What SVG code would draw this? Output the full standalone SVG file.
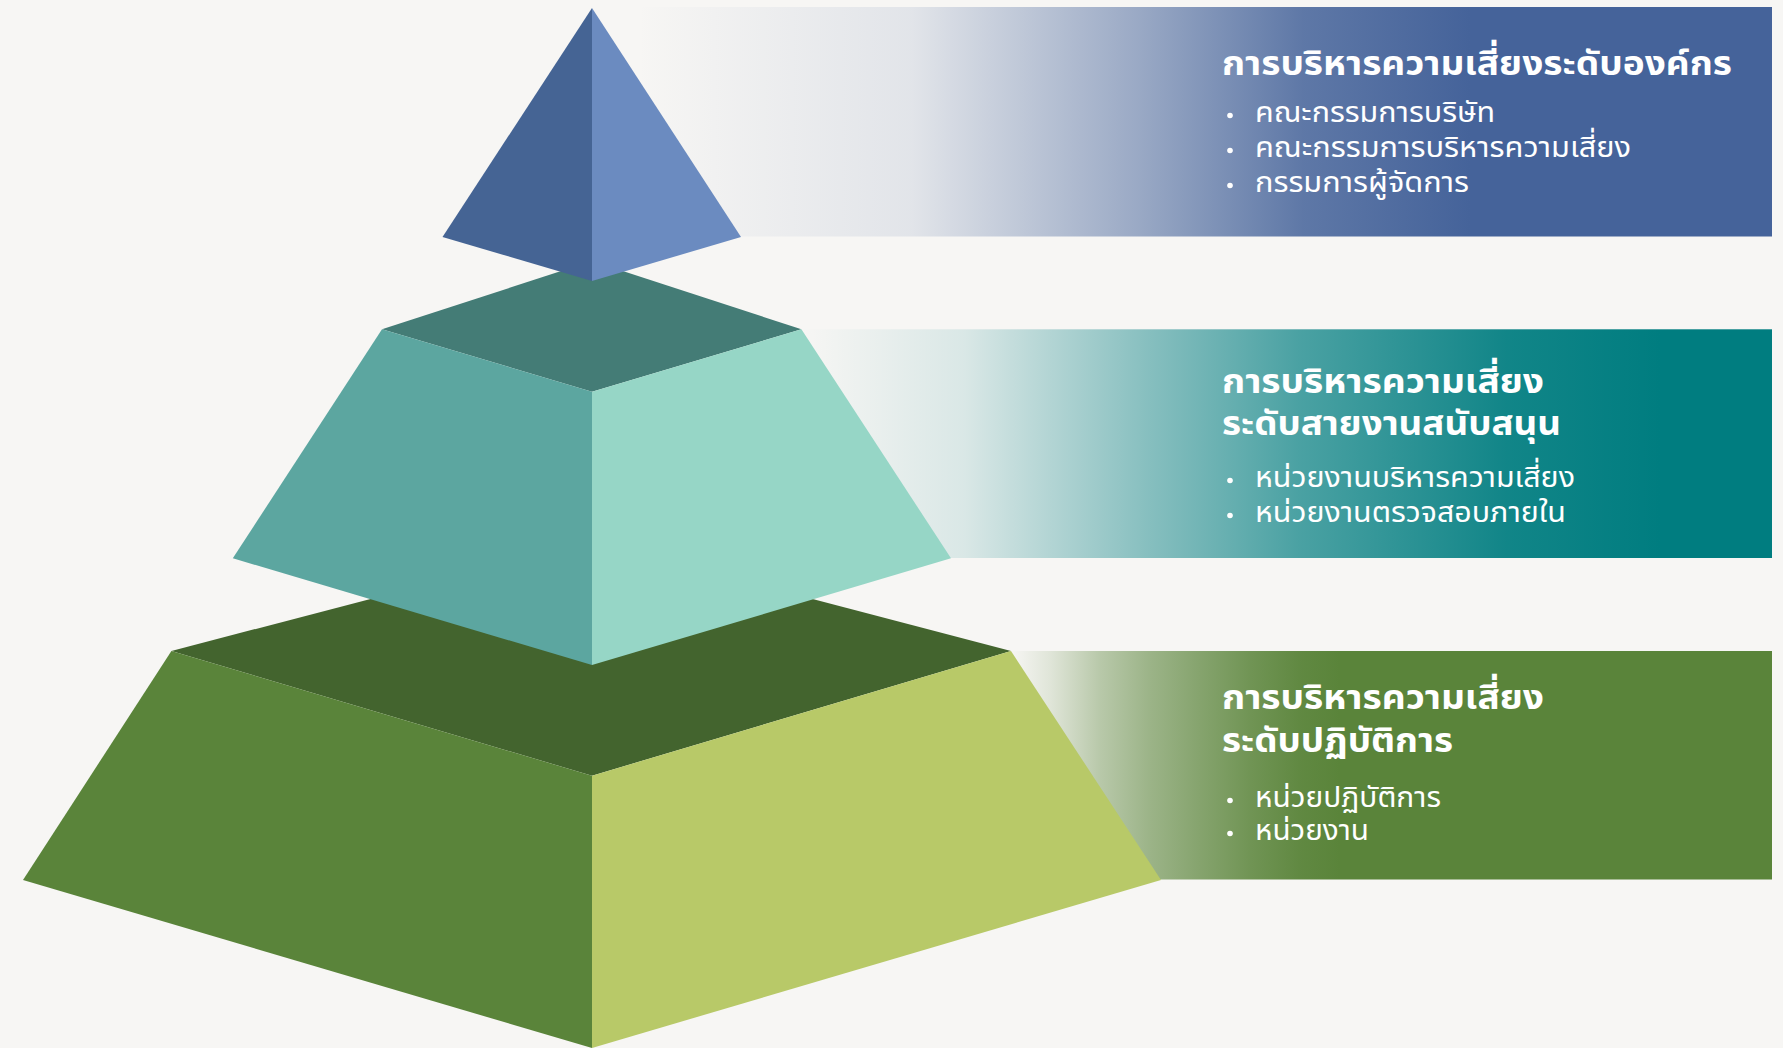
<svg xmlns="http://www.w3.org/2000/svg" width="1783" height="1048" viewBox="0 0 1783 1048">
  <defs>
    <linearGradient id="g1" gradientUnits="userSpaceOnUse" x1="637" y1="0" x2="1470" y2="0">
      <stop offset="0" stop-color="#45639A" stop-opacity="0"/>
      <stop offset="0.33" stop-color="#45639A" stop-opacity="0.12"/>
      <stop offset="0.6" stop-color="#45639A" stop-opacity="0.52"/>
      <stop offset="0.8" stop-color="#45639A" stop-opacity="0.86"/>
      <stop offset="1" stop-color="#45639A" stop-opacity="1"/>
    </linearGradient>
    <linearGradient id="g2" gradientUnits="userSpaceOnUse" x1="801" y1="0" x2="1660" y2="0">
      <stop offset="0" stop-color="#007D80" stop-opacity="0"/>
      <stop offset="0.19" stop-color="#007D80" stop-opacity="0.12"/>
      <stop offset="0.4" stop-color="#007D80" stop-opacity="0.45"/>
      <stop offset="0.58" stop-color="#007D80" stop-opacity="0.7"/>
      <stop offset="0.82" stop-color="#007D80" stop-opacity="0.93"/>
      <stop offset="1" stop-color="#007D80" stop-opacity="1"/>
    </linearGradient>
    <linearGradient id="g3" gradientUnits="userSpaceOnUse" x1="1011" y1="0" x2="1340" y2="0">
      <stop offset="0" stop-color="#5A843A" stop-opacity="0"/>
      <stop offset="0.12" stop-color="#5A843A" stop-opacity="0.15"/>
      <stop offset="0.27" stop-color="#5A843A" stop-opacity="0.4"/>
      <stop offset="0.42" stop-color="#5A843A" stop-opacity="0.58"/>
      <stop offset="0.57" stop-color="#5A843A" stop-opacity="0.72"/>
      <stop offset="0.73" stop-color="#5A843A" stop-opacity="0.86"/>
      <stop offset="0.88" stop-color="#5A843A" stop-opacity="0.96"/>
      <stop offset="1" stop-color="#5A843A" stop-opacity="1"/>
    </linearGradient>
  </defs>
  <style>
    .title { font-family: "Noto Sans Thai", "Noto Sans", sans-serif; font-weight: 700; font-size: 34px; fill: #FFFFFF; }
    .item { font-family: "Noto Sans Thai", "Noto Sans", sans-serif; font-weight: 400; font-size: 29px; fill: #FFFFFF; }
    .dot { fill: #FFFFFF; }
  </style>
  <rect width="1783" height="1048" fill="#F7F6F4"/>

  <g id="band-1">
    <rect x="625" y="7" width="1147" height="229.5" fill="url(#g1)"/>
  </g>
  <g id="band-2">
    <rect x="760" y="329.3" width="1012" height="228.7" fill="url(#g2)"/>
  </g>
  <g id="band-3">
    <rect x="990" y="651" width="782" height="228.5" fill="url(#g3)"/>
  </g>

  <g id="tier-bottom">
    <polygon points="171.4,651 592,541 1011,651 592,775.7" fill="#43642E"/>
    <polygon points="171.4,651 592,775.7 592,1048 23,880" fill="#5A843A"/>
    <polygon points="1011,651 592,775.7 592,1048 1161,880" fill="#B8C968"/>
  </g>
  <g id="tier-middle">
    <polygon points="382,329.3 592,261 801.4,329.3 592,391.7" fill="#447C76"/>
    <polygon points="382,329.3 592,391.7 592,665 232.8,558.3" fill="#5CA6A0"/>
    <polygon points="801.4,329.3 592,391.7 592,665 951,558.3" fill="#96D6C6"/>
  </g>
  <g id="tier-top">
    <polygon points="592,8 442.5,237 592,281" fill="#456494"/>
    <polygon points="592,8 741,237 592,281" fill="#6B8BC0"/>
  </g>

  <g id="label-1">
    <text class="title" x="1222" y="75" textLength="510" lengthAdjust="spacingAndGlyphs">การบริหารความเสี่ยงระดับองค์กร</text>
    <circle class="dot" cx="1230" cy="115.5" r="2.8"/>
    <text class="item" x="1255" y="121.7" textLength="240" lengthAdjust="spacingAndGlyphs">คณะกรรมการบริษัท</text>
    <circle class="dot" cx="1230" cy="150.5" r="2.8"/>
    <text class="item" x="1255" y="156.7" textLength="376" lengthAdjust="spacingAndGlyphs">คณะกรรมการบริหารความเสี่ยง</text>
    <circle class="dot" cx="1230" cy="185.5" r="2.8"/>
    <text class="item" x="1255" y="191.7" textLength="214" lengthAdjust="spacingAndGlyphs">กรรมการผู้จัดการ</text>
  </g>
  <g id="label-2">
    <text class="title" x="1222" y="393.3" textLength="322" lengthAdjust="spacingAndGlyphs">การบริหารความเสี่ยง</text>
    <text class="title" x="1222" y="435" textLength="339" lengthAdjust="spacingAndGlyphs">ระดับสายงานสนับสนุน</text>
    <circle class="dot" cx="1230" cy="480.5" r="2.8"/>
    <text class="item" x="1255" y="486.7" textLength="320" lengthAdjust="spacingAndGlyphs">หน่วยงานบริหารความเสี่ยง</text>
    <circle class="dot" cx="1230" cy="515.5" r="2.8"/>
    <text class="item" x="1255" y="521.7" textLength="311" lengthAdjust="spacingAndGlyphs">หน่วยงานตรวจสอบภายใน</text>
  </g>
  <g id="label-3">
    <text class="title" x="1222" y="709.3" textLength="322" lengthAdjust="spacingAndGlyphs">การบริหารความเสี่ยง</text>
    <text class="title" x="1222" y="751.7" textLength="231" lengthAdjust="spacingAndGlyphs">ระดับปฏิบัติการ</text>
    <circle class="dot" cx="1230" cy="800.5" r="2.8"/>
    <text class="item" x="1255" y="806.7" textLength="186" lengthAdjust="spacingAndGlyphs">หน่วยปฏิบัติการ</text>
    <circle class="dot" cx="1230" cy="833.5" r="2.8"/>
    <text class="item" x="1255" y="839.7" textLength="114" lengthAdjust="spacingAndGlyphs">หน่วยงาน</text>
  </g>
</svg>
